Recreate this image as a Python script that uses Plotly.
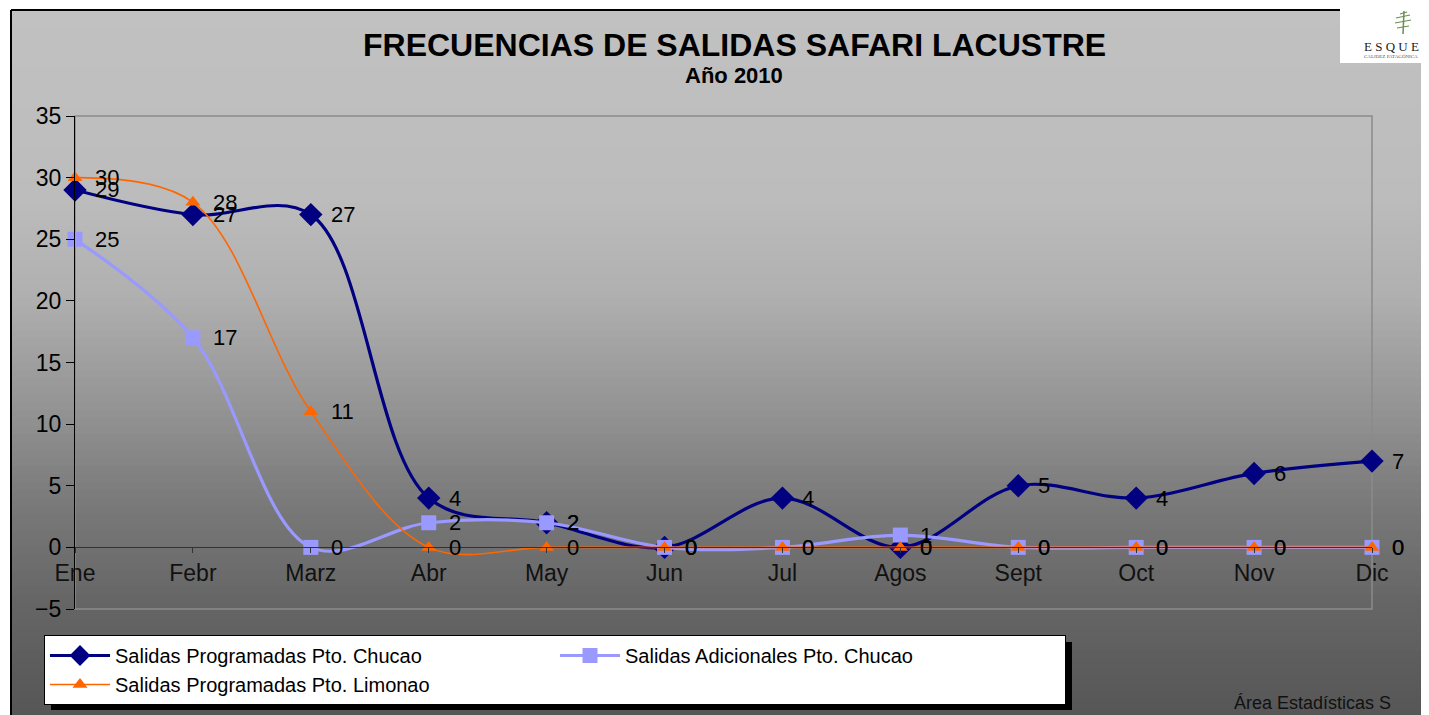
import plotly.graph_objects as go

# ---------------- data ----------------
months = ["Ene", "Febr", "Marz", "Abr", "May", "Jun", "Jul", "Agos", "Sept", "Oct", "Nov", "Dic"]
prog_chucao = [29, 27, 27, 4, 2, 0, 4, 0, 5, 4, 6, 7]
adic_chucao = [25, 17, 0, 2, 2, 0, 0, 1, 0, 0, 0, 0]
prog_limonao = [30, 28, 11, 0, 0, 0, 0, 0, 0, 0, 0, 0]
series_names = ["Salidas Programadas Pto. Chucao",
                "Salidas Adicionales Pto. Chucao",
                "Salidas Programadas Pto. Limonao"]
y_ticks = [-5, 0, 5, 10, 15, 20, 25, 30, 35]

# ---------------- layout geometry (pixels of the page) ----------------
OFF = 8                       # default body margin of the html page
WIN_W, WIN_H = 1429, 715
FW, FH = WIN_W - OFF, WIN_H - OFF
L, R, T, B = 75, 1372, 116, 609   # plot area in page pixels
PW, PH = R - L, B - T


def px(x):
    return (x - L) / PW


def py(y):
    return (B - y) / PH


xs = list(range(len(months)))
FONT = "Liberation Sans, Arial"

fig = go.Figure()

styles = [
    dict(color="#000080", width=3.2, symbol="diamond", msize=18),
    dict(color="#9999FF", width=3.2, symbol="square", msize=15),
    dict(color="#FF6600", width=1.6, symbol="triangle-up", msize=13),
]
for name, vals, st in zip(series_names, [prog_chucao, adic_chucao, prog_limonao], styles):
    fig.add_trace(go.Scatter(
        x=xs, y=vals, name=name, mode="lines+markers",
        line=dict(color=st["color"], width=st["width"], shape="spline", smoothing=1.0),
        marker=dict(symbol=st["symbol"], size=st["msize"], color=st["color"]),
        cliponaxis=False,
    ))

annotations = []
# data labels
for vals in [prog_chucao, adic_chucao, prog_limonao]:
    for i, v in zip(xs, vals):
        annotations.append(dict(x=i, y=v, xref="x", yref="y", text=str(v), showarrow=False,
                                xanchor="left", yanchor="middle", xshift=18,
                                font=dict(family=FONT, size=22, color="black")))

# title
annotations.append(dict(x=px(735), y=py(45), xref="paper", yref="paper",
                        text="<b>FRECUENCIAS DE SALIDAS SAFARI LACUSTRE</b>", showarrow=False,
                        xanchor="center", yanchor="middle",
                        font=dict(family=FONT, size=32, color="black")))
annotations.append(dict(x=px(734), y=py(76), xref="paper", yref="paper",
                        text="<b>Año 2010</b>", showarrow=False,
                        xanchor="center", yanchor="middle",
                        font=dict(family=FONT, size=22, color="black")))
# footer
annotations.append(dict(x=px(1232), y=py(703), xref="paper", yref="paper",
                        text="Área Estadísticas S", showarrow=False,
                        xanchor="left", yanchor="middle",
                        font=dict(family=FONT, size=18, color="#111111")))
# logo text
annotations.append(dict(x=px(1362), y=py(46), xref="paper", yref="paper",
                        text="E S Q U E", showarrow=False, xanchor="left", yanchor="middle",
                        font=dict(family="Liberation Serif, DejaVu Serif", size=13, color="#222222")))
annotations.append(dict(x=px(1362), y=py(57), xref="paper", yref="paper",
                        text="CALIDEZ PATAGÓNICA", showarrow=False, xanchor="left", yanchor="middle",
                        font=dict(family="Liberation Serif, DejaVu Serif", size=5, color="#555555")))

shapes = []
# background gradient
stops = [(10, 193), (200, 188), (300, 175), (400, 150), (500, 122), (600, 102), (715, 86)]


def shade(yy):
    for (y0, c0), (y1, c1) in zip(stops[:-1], stops[1:]):
        if y0 <= yy <= y1:
            return c0 + (c1 - c0) * (yy - y0) / (y1 - y0)
    return stops[-1][1]


band = 8
yy = 10
while yy < WIN_H:
    c = int(round(shade(yy + band / 2)))
    shapes.append(dict(type="rect", xref="paper", yref="paper", layer="below",
                       x0=px(11), x1=px(WIN_W + 2), y0=py(yy), y1=py(min(yy + band + 1, WIN_H + 2)),
                       line=dict(width=0), fillcolor=f"rgb({c},{c},{c})"))
    yy += band

# outer frame lines
shapes.append(dict(type="line", xref="paper", yref="paper", layer="below",
                   x0=px(11), x1=px(11), y0=py(10), y1=py(WIN_H + 2), line=dict(color="black", width=2)))
shapes.append(dict(type="line", xref="paper", yref="paper", layer="below",
                   x0=px(11), x1=px(1340), y0=py(10), y1=py(10), line=dict(color="black", width=2)))
# plot area frame
shapes.append(dict(type="rect", xref="paper", yref="paper", layer="below",
                   x0=0, x1=1, y0=0, y1=1, line=dict(color="#8a8a8a", width=1.5)))
# logo box
shapes.append(dict(type="rect", xref="paper", yref="paper", layer="above",
                   x0=px(1340), x1=px(WIN_W + 2), y0=py(OFF - 2), y1=py(63),
                   line=dict(width=0), fillcolor="white"))
# logo tree
tree_col = "#6b8f4e"
shapes.append(dict(type="line", xref="paper", yref="paper", layer="above",
                   x0=px(1404), x1=px(1403), y0=py(11), y1=py(34), line=dict(color=tree_col, width=1.5)))
for (xa, ya, xb, yb) in [(1396, 18, 1410, 15), (1395, 23, 1411, 20), (1397, 28, 1409, 26), (1400, 14, 1407, 12)]:
    shapes.append(dict(type="line", xref="paper", yref="paper", layer="above",
                       x0=px(xa), x1=px(xb), y0=py(ya), y1=py(yb), line=dict(color=tree_col, width=1.2)))
# legend shadow
shapes.append(dict(type="rect", xref="paper", yref="paper", layer="above",
                   x0=px(51), x1=px(1072), y0=py(642), y1=py(710),
                   line=dict(width=0), fillcolor="black"))

fig.update_layout(
    width=FW, height=FH,
    margin=dict(l=L - OFF, r=WIN_W - R, t=T - OFF, b=WIN_H - B, autoexpand=False),
    paper_bgcolor="white",
    plot_bgcolor="rgba(0,0,0,0)",
    showlegend=True,
    legend=dict(orientation="h", x=px(44), y=py(635), xanchor="left", yanchor="top",
                bgcolor="white", bordercolor="black", borderwidth=1,
                font=dict(family=FONT, size=20, color="black"),
                entrywidth=435, entrywidthmode="pixels", itemwidth=60,
                tracegroupgap=0),
    xaxis=dict(range=[0, 11], tickmode="array", tickvals=xs, ticktext=months,
               anchor="free", position=5 / 40,
               showline=True, linecolor="#333333", linewidth=1.2,
               ticks="outside", ticklen=5, tickcolor="#333333",
               showgrid=False, zeroline=False, fixedrange=True,
               tickfont=dict(family=FONT, size=23, color="#111111")),
    yaxis=dict(range=[-5, 35], tickmode="array", tickvals=y_ticks,
               showline=True, linecolor="black", linewidth=1.2,
               ticks="outside", ticklen=8, tickcolor="black",
               showgrid=False, zeroline=False, fixedrange=True,
               tickfont=dict(family=FONT, size=23, color="black")),
    annotations=annotations,
    shapes=shapes,
)

fig.write_html("out.html")
